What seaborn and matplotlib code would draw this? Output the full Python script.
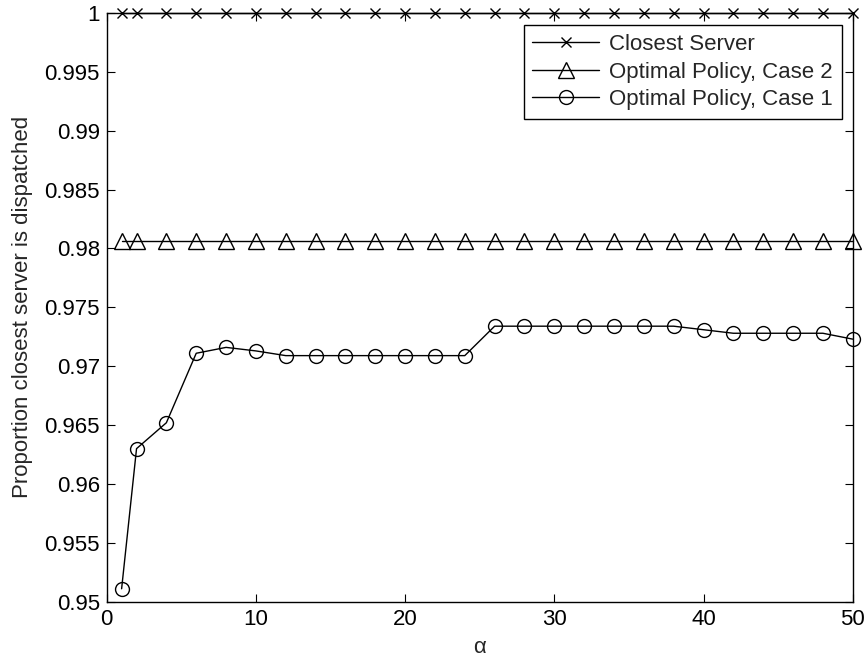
import numpy as np
import pandas as pd
import matplotlib
matplotlib.use("Agg")
import matplotlib.pyplot as plt
import seaborn as sns

# alpha values at which each policy was evaluated
alpha = [1, 2, 4, 6, 8, 10, 12, 14, 16, 18, 20, 22, 24, 26, 28, 30,
         32, 34, 36, 38, 40, 42, 44, 46, 48, 50]

closest_server = [1.0] * len(alpha)
optimal_case2 = [0.9806] * len(alpha)
optimal_case1 = [0.9511, 0.9630, 0.9652, 0.9711, 0.9716, 0.9713,
                 0.9709, 0.9709, 0.9709, 0.9709, 0.9709, 0.9709, 0.9709,
                 0.9734, 0.9734, 0.9734, 0.9734, 0.9734, 0.9734, 0.9734,
                 0.9731, 0.9728, 0.9728, 0.9728, 0.9728, 0.9723]

series_labels = ["Closest Server", "Optimal Policy, Case 2", "Optimal Policy, Case 1"]

x_ticks = [0, 10, 20, 30, 40, 50]
y_ticks = [0.95, 0.955, 0.96, 0.965, 0.97, 0.975, 0.98, 0.985, 0.99, 0.995, 1.0]
y_tick_labels = ["0.95", "0.955", "0.96", "0.965", "0.97", "0.975",
                 "0.98", "0.985", "0.99", "0.995", "1"]

df = pd.DataFrame({
    "alpha": alpha * 3,
    "value": closest_server + optimal_case2 + optimal_case1,
    "series": [series_labels[0]] * len(alpha)
              + [series_labels[1]] * len(alpha)
              + [series_labels[2]] * len(alpha),
})

sns.set_style("ticks")
plt.rcParams["font.family"] = ["Liberation Sans", "DejaVu Sans"]

FS = 16

fig = plt.figure(figsize=(8.68, 6.64), dpi=100)
ax = fig.add_axes([106.7 / 868, 1 - 601.7 / 664,
                   (852.7 - 106.7) / 868, (601.7 - 13) / 664])

styles = {
    series_labels[0]: dict(marker="x", markersize=7, markeredgewidth=1.0),
    series_labels[1]: dict(marker="^", markersize=11, markeredgewidth=1.0,
                           markerfacecolor="none"),
    series_labels[2]: dict(marker="o", markersize=10, markeredgewidth=1.0,
                           markerfacecolor="none"),
}

for name in series_labels:
    sub = df[df["series"] == name]
    sns.lineplot(data=sub, x="alpha", y="value", ax=ax, color="black",
                 linewidth=1.0, markeredgecolor="black", label=name,
                 clip_on=False, **styles[name])

ax.set_xlim(0, 50)
ax.set_ylim(0.95, 1.0)
ax.set_xticks(x_ticks)
ax.set_xticklabels([str(t) for t in x_ticks])
ax.set_yticks(y_ticks)
ax.set_yticklabels(y_tick_labels)

ax.tick_params(direction="in", length=5.5, width=0.8, labelsize=FS,
               top=True, right=True, colors="black", pad=5)
for sp in ax.spines.values():
    sp.set_visible(True)
    sp.set_linewidth(1.0)
    sp.set_color("black")

ax.set_xlabel("α", fontsize=FS, labelpad=5)
ax.set_ylabel("Proportion closest server is dispatched", fontsize=FS, labelpad=8)

leg = ax.legend(loc="upper right",
                bbox_to_anchor=(841.7 / 868, 1 - 25 / 664),
                bbox_transform=fig.transFigure,
                borderaxespad=0, fontsize=FS, frameon=True, fancybox=False,
                framealpha=1, edgecolor="black", handlelength=3.0,
                handletextpad=0.45, labelspacing=0.3, borderpad=0.4)
leg.get_frame().set_linewidth(1.0)

fig.savefig("out.png", dpi=100, facecolor="white")
